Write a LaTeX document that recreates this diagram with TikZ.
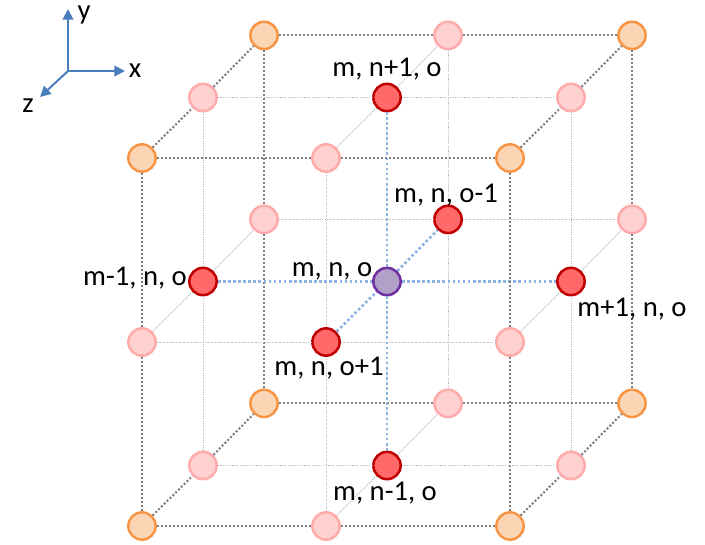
\documentclass[tikz,border=0pt]{standalone}
\usepackage{fontspec}
\setmainfont{Carlito}
\usetikzlibrary{arrows.meta}
\definecolor{axisblue}{HTML}{4A7EBB}
\definecolor{gridblue}{HTML}{8DB3E2}
\tikzset{
  x=0.75pt,y=-0.75pt,
  ball/.style={circle,minimum size=20.5pt,inner sep=0pt,line width=1.9pt},
  corner/.style={ball,draw={rgb,255:red,247;green,150;blue,70},fill={rgb,255:red,252;green,213;blue,180}},
  pinkball/.style={ball,draw={rgb,255:red,255;green,171;blue,171},fill={rgb,255:red,255;green,209;blue,209}},
  redball/.style={ball,draw={rgb,255:red,192;green,0;blue,0},fill={rgb,255:red,255;green,105;blue,105}},
  centreball/.style={ball,draw={rgb,255:red,112;green,48;blue,160},fill={rgb,255:red,177;green,160;blue,199}},
  outer/.style={draw={rgb,255:red,128;green,128;blue,128},line width=1.6pt,dash pattern=on 1.5pt off 1.5pt},
  inner/.style={draw={rgb,255:red,190;green,190;blue,190},line width=0.75pt,dash pattern=on 0.9pt off 0.9pt},
  bluedot/.style={draw=gridblue,line width=2pt,dash pattern=on 2pt off 1.8pt},
  axisline/.style={draw=axisblue,line width=1.5pt,-{Triangle[length=8pt,width=8pt]}},
  lab/.style={font=\fontsize{21.5pt}{24pt}\selectfont,inner sep=0pt,text=black},
}
\begin{document}
\begin{tikzpicture}
\useasboundingbox (0,0) rectangle (705,544);
% lattice nodes: name i j k, i along x, j up y, k into the page
\foreach \i in {0,1,2}{\foreach \j in {0,1,2}{\foreach \k/\dx/\dy in {0/0/0,1/61/60.5,2/122/122.6}{
  \pgfmathtruncatemacro{\cnt}{(\i==1)+(\j==1)+(\k==1)}
  \ifnum\cnt=0 \def\sty{corner}\fi
  \ifnum\cnt=1 \def\sty{pinkball}\fi
  \ifnum\cnt=2 \def\sty{redball}\fi
  \ifnum\cnt=3 \def\sty{centreball}\fi
  \pgfmathsetmacro{\px}{142+184*\i+\dx}
  \pgfmathsetmacro{\py}{526-184*\j-\dy}
  \node[\sty] (n\i\j\k) at (\px,\py) {};
}}}
% connectors along each axis
\foreach \a/\b in {0/1,1/2}{
  \foreach \p in {0,1,2}{\foreach \q in {0,1,2}{
    \pgfmathtruncatemacro{\ip}{(\p==1)+(\q==1)}
    \ifnum\p=1 \def\sx{inner}\else\ifnum\q=1 \def\sx{inner}\else\def\sx{outer}\fi\fi
    \ifnum\ip=2 \def\sx{bluedot}\fi
    \draw[\sx] (n\a\p\q) -- (n\b\p\q);
    \draw[\sx] (n\p\a\q) -- (n\p\b\q);
    \draw[\sx] (n\p\q\a) -- (n\p\q\b);
  }}
}
% axes
\coordinate (orig) at (68,71);
\coordinate (ytip) at (68,9);
\coordinate (xtip) at (125,71);
\coordinate (ztip) at (40,97);
\draw[axisline] (orig) -- (ytip);
\draw[axisline] (orig) -- (xtip);
\draw[axisline] (orig) -- (ztip);
\node[lab] (ly) at (84,15) {y};
\node[lab] (lx) at (135,71) {x};
\node[lab] (lz) at (28,106) {z};
% labels
\node[lab] (l1) at (387,69) {m, n+1, o};
\node[lab] (l2) at (446,195) {m, n, o-1};
\node[lab] (l3) at (332,271) {m, n, o};
\node[lab] (l4) at (135,278) {m-1, n, o};
\node[lab] (l5) at (632,309) {m+1, n, o};
\node[lab] (l6) at (329,368) {m, n, o+1};
\node[lab] (l7) at (385,493) {m, n-1, o};
\end{tikzpicture}
\end{document}
